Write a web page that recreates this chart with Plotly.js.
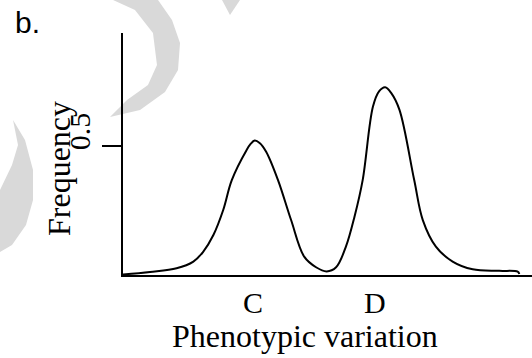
<!DOCTYPE html>
<html>
<head>
<meta charset="utf-8">
<script src="https://cdn.plot.ly/plotly-3.0.1.min.js"></script>
<style>html,body{margin:0;padding:0;background:#fff;}#chart{width:532px;height:358px;}</style>
</head>
<body>
<div id="chart"></div>
<script>
// Phenotypic variation (arbitrary units 0..10) and frequency
const phenotype = [0.00, 0.66, 1.31, 1.72, 1.96, 2.21, 2.45, 2.66, 3.02, 3.12, 3.22, 3.34, 3.50, 3.79, 4.11, 4.43, 4.72, 4.98, 5.21, 5.45, 5.66, 5.86, 6.11, 6.26, 6.41, 6.56, 6.76, 7.12, 7.33, 7.65, 8.06, 8.55, 9.20, 9.65, 9.69];
const frequency = [0.002, 0.012, 0.026, 0.052, 0.090, 0.155, 0.252, 0.368, 0.484, 0.508, 0.521, 0.512, 0.478, 0.368, 0.213, 0.071, 0.030, 0.014, 0.030, 0.110, 0.226, 0.368, 0.652, 0.712, 0.728, 0.705, 0.640, 0.368, 0.213, 0.110, 0.052, 0.022, 0.016, 0.013, 0.004];
const categoryPositions = [3.18, 6.16];
const categoryLabels = ["C", "D"];
const yTickValues = [0.5];
const yTickLabels = ["0.5"];
const panelLabel = "b.";
const xTitle = "Phenotypic variation";
const yTitle = "Frequency";

// layout helpers (pixel -> paper)
const L = 123, T = 33, W = 409, H = 242;
const px = v => (v - L) / W;
const py = v => (T + H - v) / H;

const serif = "Liberation Serif, Times New Roman, serif";

const trace = {
  x: phenotype, y: frequency, type: "scatter", mode: "lines",
  line: {color: "#000", width: 2, shape: "spline", smoothing: 1},
  hoverinfo: "skip", showlegend: false
};

function pathFrom(pts) {
  return "M " + pts.map(p => px(p[0]).toFixed(4) + "," + py(p[1]).toFixed(4)).join(" L ") + " Z";
}
// faint watermark arcs in the background
const wm1 = [[113,0],[158,0],[172,20],[180,43],[178,70],[165,92],[140,110],[110,117],[127,100],[148,85],[157,65],[153,33],[135,10]];
const wm2 = [[13,120],[25,140],[33,170],[33,200],[26,225],[12,245],[0,252],[0,190],[12,165],[18,145]];
const wm3 = [[222,0],[240,0],[230,15]];

const layout = {
  width: 532, height: 358,
  margin: {l: L, r: 0, t: T, b: 358 - T - H, pad: 0},
  paper_bgcolor: "#fff", plot_bgcolor: "rgba(0,0,0,0)",
  showlegend: false,
  xaxis: {
    range: [0, 10], showgrid: false, zeroline: false,
    showline: true, linecolor: "#000", linewidth: 2,
    ticks: "", tickmode: "array", tickvals: categoryPositions, ticktext: categoryLabels,
    tickfont: {family: serif, size: 30, color: "#000"},
    fixedrange: true
  },
  yaxis: {
    range: [0, 0.938], showgrid: false, zeroline: false,
    showline: true, linecolor: "#000", linewidth: 2,
    ticks: "outside", ticklen: 19, tickwidth: 2, tickcolor: "#000",
    tickmode: "array", tickvals: yTickValues, ticktext: yTickLabels,
    tickangle: -90, ticklabelshift: -10,
    tickfont: {family: serif, size: 30, color: "#000"},
    fixedrange: true
  },
  shapes: [wm1, wm2, wm3].map(p => ({
    type: "path", xref: "paper", yref: "paper", path: pathFrom(p),
    fillcolor: "#d9d9d9", line: {width: 0}, layer: "below"
  })),
  annotations: [
    {text: yTitle, xref: "paper", yref: "paper", x: px(59), y: py(169),
     xanchor: "center", yanchor: "middle", textangle: -90, showarrow: false,
     font: {family: serif, size: 32, color: "#000"}},
    {text: xTitle, xref: "paper", yref: "paper", x: px(305), y: py(336),
     xanchor: "center", yanchor: "middle", showarrow: false,
     font: {family: serif, size: 32, color: "#000"}},
    {text: panelLabel, xref: "paper", yref: "paper", x: px(13), y: py(22),
     xanchor: "left", yanchor: "middle", showarrow: false,
     font: {family: "Liberation Sans, Arial, sans-serif", size: 30, color: "#000"}}
  ]
};

Plotly.newPlot("chart", [trace], layout, {staticPlot: true, displayModeBar: false});
</script>
</body>
</html>
